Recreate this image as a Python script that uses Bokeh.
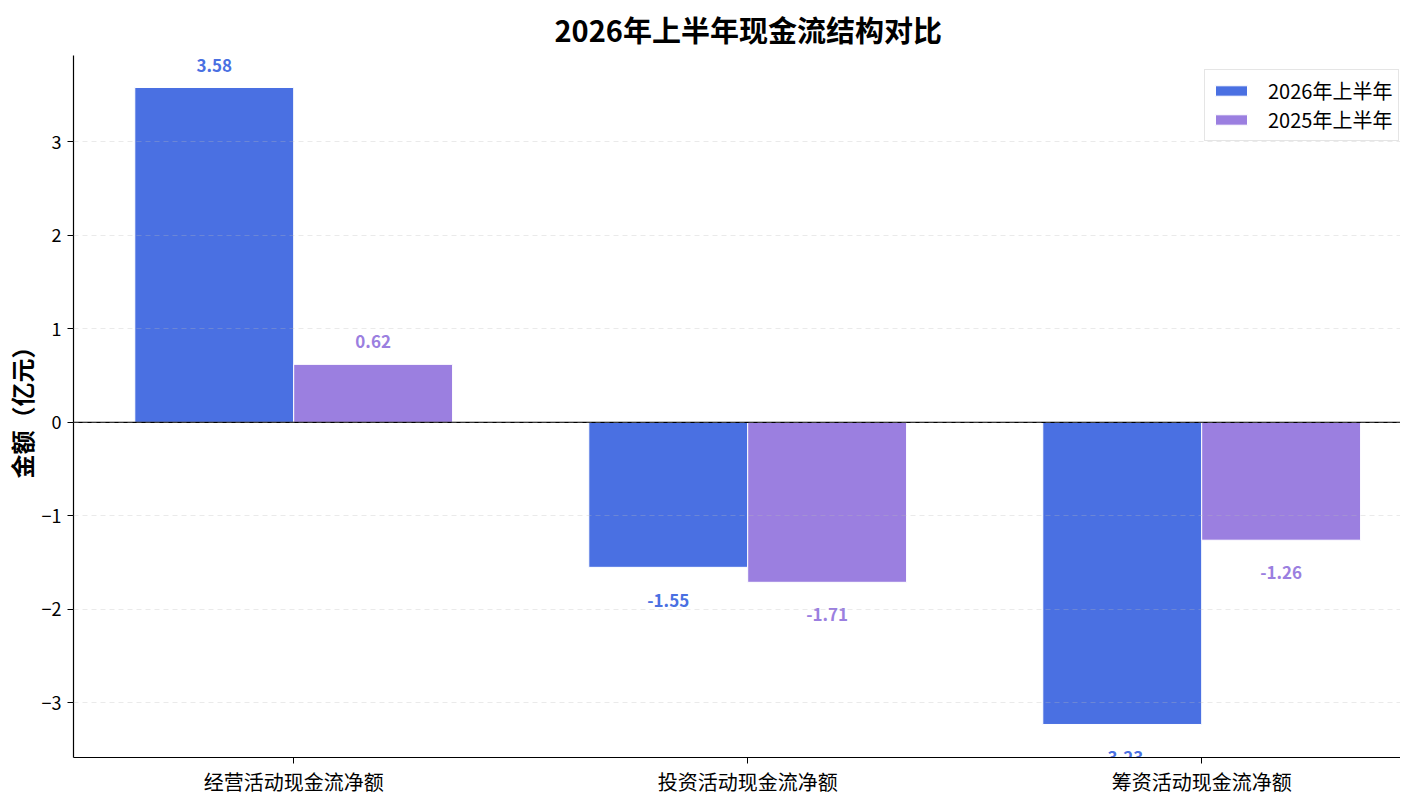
from bokeh.plotting import figure
from bokeh.models import ColumnDataSource, Span, FixedTicker, Range1d, Legend, LegendItem
from bokeh.embed import file_html
from bokeh.resources import INLINE
from bokeh.core.properties import value

categories = ["经营活动现金流净额", "投资活动现金流净额", "筹资活动现金流净额"]
series_2026 = [3.58, -1.55, -3.23]
series_2025 = [0.62, -1.71, -1.26]
series_names = ["2026年上半年", "2025年上半年"]
y_ticks = [-3, -2, -1, 0, 1, 2, 3]

BLUE = "#4A70E2"
PURPLE = "#9B7FE0"
FONT = "Noto Sans CJK SC"
bar_w = 0.35

idx = list(range(len(categories)))
Y0, Y1 = -3.583, 3.922
FW, FH = 1327, 702

p = figure(frame_width=FW, frame_height=FH, output_backend="svg", toolbar_location=None,
           x_range=Range1d(-0.485, -0.485 + FW / 454.0), y_range=Range1d(Y0, Y1),
           min_border_left=66, min_border_right=0, min_border_top=0, min_border_bottom=0)

p.title.text = "2026年上半年现金流结构对比"
p.title.align = "left"
p.title.text_font = FONT
p.title.text_font_size = "29px"
p.title.text_font_style = "bold"
p.title.text_color = "black"
p.title.text_line_height = 1.0
p.title.offset = 481
p.title.standoff = 11

def src(vals, shift):
    xs = [i + shift for i in idx]
    lab_y = [v + 0.17 if v >= 0 else v - 0.28 for v in vals]
    base = ["bottom" if v >= 0 else "top" for v in vals]
    return ColumnDataSource(dict(x=xs, top=vals, ly=lab_y, base=base,
                                 txt=[f"{v:.2f}" for v in vals]))

s1 = src(series_2026, -bar_w / 2)
s2 = src(series_2025, bar_w / 2)

r1 = p.vbar(x="x", top="top", bottom=0, width=bar_w, source=s1,
            fill_color=BLUE, line_color="white", line_width=1)
r2 = p.vbar(x="x", top="top", bottom=0, width=bar_w, source=s2,
            fill_color=PURPLE, line_color="white", line_width=1)

for s, c in ((s1, BLUE), (s2, PURPLE)):
    p.text(x="x", y="ly", text="txt", source=s, text_align="center",
           text_baseline="base", text_color=c, text_font=value(FONT),
           text_font_size="17px", text_font_style="bold")

p.add_layout(Span(location=0, dimension="width", line_color="black", line_width=1.2))

p.xgrid.visible = False
p.ygrid.ticker = FixedTicker(ticks=y_ticks)
p.ygrid.grid_line_color = "#bbbbbb"
p.ygrid.grid_line_alpha = 0.3
p.ygrid.grid_line_dash = "5 4"
p.ygrid.level = "overlay"

p.outline_line_color = None

p.yaxis.ticker = FixedTicker(ticks=y_ticks)
p.yaxis.axis_label = "金额（亿元）"
p.yaxis.axis_label_text_font = FONT
p.yaxis.axis_label_text_font_size = "24px"
p.yaxis.axis_label_text_font_style = "bold"
p.yaxis.axis_label_text_color = "black"
p.yaxis.axis_label_text_line_height = 1.0
p.yaxis.axis_label_standoff = 0
p.yaxis.major_label_text_font = FONT
p.yaxis.major_label_text_font_size = "18px"
p.yaxis.major_label_text_color = "black"
p.yaxis.major_label_standoff = 6

p.xaxis.ticker = FixedTicker(ticks=idx)
p.xaxis.major_label_overrides = {i: c for i, c in zip(idx, categories)}
p.xaxis.major_label_text_font = FONT
p.xaxis.major_label_text_font_size = "20px"
p.xaxis.major_label_text_color = "black"
p.xaxis.major_label_text_line_height = 1.0
p.xaxis.major_label_standoff = 3

for ax in (p.xaxis, p.yaxis):
    ax.axis_line_color = "black"
    ax.axis_line_width = 1.2
    ax.major_tick_line_color = "black"
    ax.major_tick_in = 0
    ax.major_tick_out = 6
    ax.minor_tick_line_color = None

legend = Legend(items=[LegendItem(label=series_names[0], renderers=[r1]),
                       LegendItem(label=series_names[1], renderers=[r2])],
                location=(FW - 196, FH - 86))
legend.label_text_font = FONT
legend.label_text_font_size = "20px"
legend.label_text_color = "black"
legend.glyph_width = 40
legend.glyph_height = 13
legend.label_standoff = 17
legend.spacing = 0
legend.padding = 6
legend.margin = 0
legend.border_line_color = "#cccccc"
legend.border_line_width = 1.5
legend.background_fill_alpha = 0.85
p.add_layout(legend)

open("out.html", "w").write(file_html(p, INLINE))
